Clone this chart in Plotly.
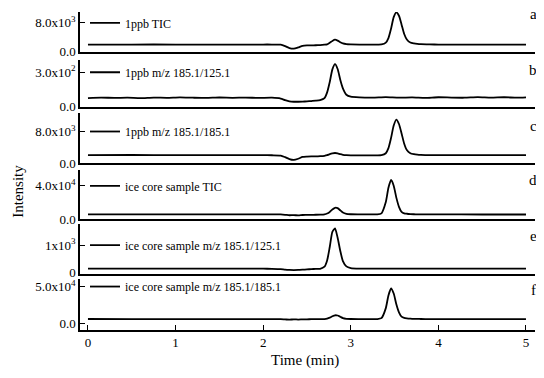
import plotly.graph_objects as go

# retention time grid (min) shared by panels a, c, d, e, f
t = [0.0, 0.5, 1.0, 1.5, 2.0, 2.1, 2.2, 2.25, 2.3, 2.35,
     2.4, 2.45, 2.5, 2.55, 2.6, 2.65, 2.7, 2.73, 2.76, 2.79,
     2.82, 2.85, 2.88, 2.91, 2.95, 3.0, 3.1, 3.2, 3.3, 3.35,
     3.4, 3.43, 3.46, 3.49, 3.52, 3.55, 3.58, 3.61, 3.64, 3.68,
     3.72, 3.76, 3.8, 3.9, 4.0, 4.5, 5.0]

a_tic = [1900, 1950, 1950, 1950, 1950, 1950, 1900, 1500, 950, 800,
         1150, 1600, 1700, 1720, 1750, 1800, 1900, 2000, 2450, 2950,
         3300, 3050, 2600, 2250, 2050, 1980, 1950, 1950, 1950, 1980,
         2480, 3750, 6400, 9600, 10950, 10000, 7500, 4900, 3350, 2500,
         2250, 2120, 2050, 1980, 1950, 1950, 1950]

# panel b has its own (noisy) trace
tb = [0.0, 0.15, 0.3, 0.45, 0.6, 0.75, 0.9, 1.05, 1.2, 1.35,
      1.5, 1.65, 1.8, 1.95, 2.1, 2.2, 2.25, 2.3, 2.35, 2.4,
      2.45, 2.5, 2.55, 2.6, 2.65, 2.7, 2.73, 2.76, 2.79, 2.82,
      2.85, 2.88, 2.91, 2.95, 3.0, 3.1, 3.25, 3.4, 3.55, 3.7,
      3.85, 4.0, 4.15, 4.3, 4.45, 4.6, 4.75, 4.9, 5.0]
b_125 = [76, 80, 77, 79, 75, 80, 78, 82, 79, 77,
         81, 78, 80, 77, 79, 72, 58, 47, 44, 44,
         45, 47, 50, 53, 58, 75, 125, 215, 325, 370,
         328, 235, 160, 105, 88, 82, 80, 84, 79, 82,
         78, 83, 80, 79, 84, 80, 83, 79, 82]

c_185 = [2000, 2050, 2000, 2000, 2000, 1980, 1900, 1500, 1000, 800,
         1100, 1550, 1650, 1700, 1700, 1750, 1850, 2000, 2250, 2450,
         2550, 2450, 2250, 2100, 2000, 1950, 1950, 1950, 1950, 2000,
         2500, 3780, 6380, 9500, 11000, 9900, 7500, 4900, 3300, 2500,
         2250, 2120, 2060, 2000, 2000, 2000, 2000]

d_tic = [6000, 5950, 5900, 5900, 5900, 5900, 5900, 5500, 4900, 5100,
         4800, 5200, 5300, 5400, 5500, 5700, 6100, 7000, 8900, 11800,
         13800, 13400, 10800, 8150, 6600, 6100, 5950, 5900, 6000, 7230,
         20700, 37700, 46900, 40100, 25900, 15000, 9000, 7200, 6700, 6300,
         6100, 6000, 5950, 5900, 5900, 5850, 5800]

e_125 = [145, 145, 145, 145, 145, 140, 130, 110, 100, 95,
         100, 110, 120, 130, 138, 143, 216, 443, 931, 1480,
         1600, 1263, 793, 423, 230, 170, 150, 148, 148, 148,
         148, 148, 148, 148, 148, 148, 148, 148, 148, 148,
         148, 148, 148, 148, 148, 148, 148]

f_185 = [5600, 5500, 5500, 5400, 5400, 5400, 5300, 5000, 4700, 5100,
         4800, 5100, 5200, 5300, 5300, 5400, 5500, 6130, 7430, 9320,
         10690, 10380, 8680, 6900, 5900, 5600, 5500, 5500, 5500, 6740,
         20500, 37900, 47300, 40400, 25800, 14700, 8750, 7000, 6400, 6000,
         5800, 5700, 5600, 5500, 5400, 5350, 5300]

names = ["1ppb TIC", "1ppb m/z 185.1/125.1", "1ppb m/z 185.1/185.1",
         "ice core sample TIC", "ice core sample m/z 185.1/125.1",
         "ice core sample m/z 185.1/185.1"]
letters = ["a", "b", "c", "d", "e", "f"]
xs = [t, tb, t, t, t, t]
ys = [a_tic, b_125, c_185, d_tic, e_125, f_185]
tick_top = [8000, 300, 8000, 40000, 1000, 50000]
tick_text = [["0.0", "8.0x10<sup>3</sup>"], ["0.0", "3.0x10<sup>2</sup>"],
             ["0.0", "8.0x10<sup>3</sup>"], ["0.0", "4.0x10<sup>4</sup>"],
             ["0", "1x10<sup>3</sup>"], ["0.0", "5.0x10<sup>4</sup>"]]
y_ranges = [[0, 11040], [0, 403], [0, 12750], [0, 58800], [-36, 1750], [-9460, 60800]]

# the page adds an 8px body margin, so the figure is drawn smaller and
# positions below are page pixels (top, bottom) of each panel
panels = [(8, 48), (57, 104), (110, 161), (168, 218), (223, 273), (278, 330)]
legend_y = [19, 69, 129, 184, 244, 286]
letter_y = [10, 67, 123, 178, 235, 290]


def py(y):
    return (330 - y) / 322.0


def px(x):
    return (x - 80) / 455.0


FONT = "Liberation Serif"
fig = go.Figure()
layout = {}
for i in range(6):
    n = "" if i == 0 else str(i + 1)
    fig.add_trace(go.Scatter(
        x=xs[i], y=ys[i], mode="lines", name=names[i],
        line=dict(color="black", width=1.8, shape="spline", smoothing=0.6),
        xaxis="x" + n, yaxis="y" + n, legend="legend" + n,
    ))
    top, bot = panels[i]
    last = i == 5
    layout["xaxis" + n] = dict(
        domain=[0, 1], anchor="y" + n, range=[-0.091, 5.103],
        showline=True, linecolor="black", linewidth=1.5,
        showgrid=False, zeroline=False,
        ticks="inside" if last else "", ticklen=5, tickwidth=1.2, tickcolor="black",
        showticklabels=last, tickvals=[0, 1, 2, 3, 4, 5],
        tickfont=dict(family=FONT, size=13, color="black"),
    )
    layout["yaxis" + n] = dict(
        domain=[py(bot), min(1.0, py(top))], anchor="x" + n,
        range=y_ranges[i], showline=True, linecolor="black", linewidth=1.5,
        showgrid=False, zeroline=False,
        ticks="inside", ticklen=5, tickwidth=1.2, tickcolor="black",
        tickvals=[0, tick_top[i]], ticktext=tick_text[i],
        tickfont=dict(family=FONT, size=13, color="black"),
    )
    layout["legend" + n] = dict(
        x=0.011, y=py(legend_y[i]), xanchor="left", yanchor="middle",
        bgcolor="rgba(0,0,0,0)", borderwidth=0, itemwidth=30,
        font=dict(family=FONT, size=12, color="black"),
    )

annotations = [dict(text=letters[i], xref="paper", yref="paper",
                    x=px(533), y=py(letter_y[i]),
                    xanchor="center", yanchor="middle", showarrow=False,
                    font=dict(family=FONT, size=15, color="black"))
               for i in range(6)]
annotations.append(dict(text="Intensity", xref="paper", yref="paper",
                        x=px(8), y=py(190), textangle=-90,
                        xanchor="left", yanchor="middle", showarrow=False,
                        font=dict(family=FONT, size=15, color="black")))
annotations.append(dict(text="Time (min)", xref="paper", yref="paper",
                        x=px(305), y=py(361),
                        xanchor="center", yanchor="middle", showarrow=False,
                        font=dict(family=FONT, size=15, color="black")))

fig.update_layout(
    width=535, height=360,
    margin=dict(l=72, r=8, t=0, b=38),
    paper_bgcolor="white", plot_bgcolor="white",
    showlegend=True, annotations=annotations,
    **layout,
)
fig.write_html("out.html")
